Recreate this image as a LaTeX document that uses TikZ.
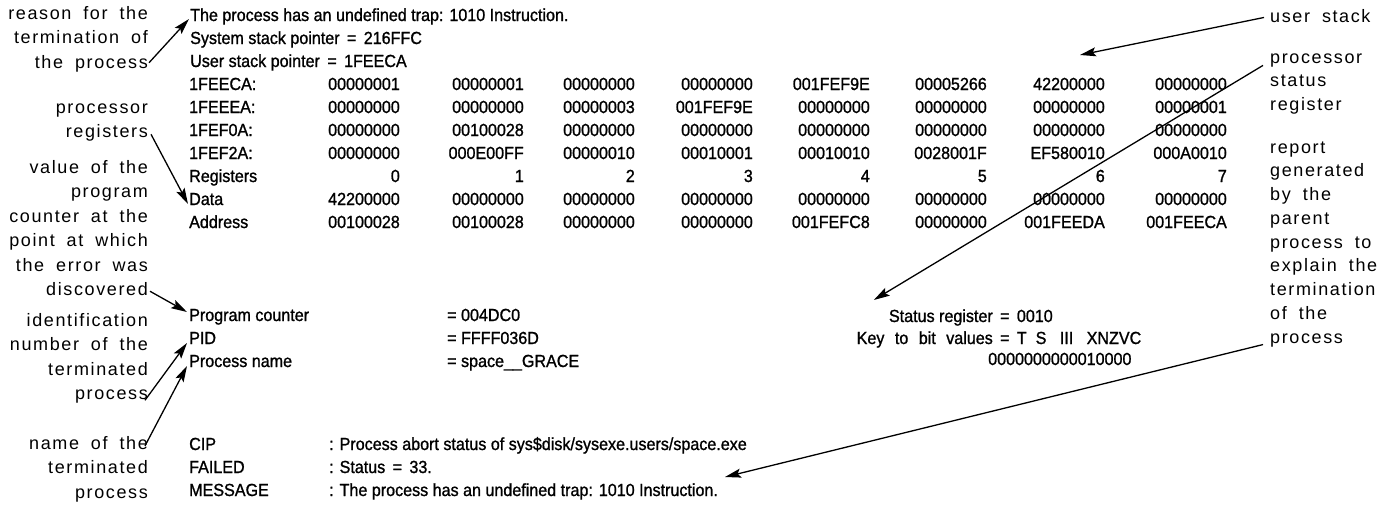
\documentclass[tikz,border=0pt]{standalone}
\usepackage{fontspec}
\setmainfont{Liberation Sans}
\newfontfamily\tabfont[FakeStretch=0.92,FakeBold=1.1]{Liberation Sans}
\newfontfamily\lblfont[LetterSpace=9,WordSpace=1.8]{Liberation Sans}
\usetikzlibrary{arrows.meta,calc}
\tikzset{
  tab/.style={inner sep=0pt, font=\tabfont\fontsize{17.5}{22}\selectfont},
  tw/.style={tab, anchor=base west},
  te/.style={tab, anchor=base east},
  lleft/.style={inner sep=0pt, align=right, anchor=north east,
     font=\lblfont\fontsize{18}{24.5}\selectfont},
  lright/.style={inner sep=0pt, align=left, anchor=north west,
     font=\lblfont\fontsize{18}{23.75}\selectfont},
  arr/.style={line width=1.3pt, -{Stealth[length=16pt,width=9pt,inset=3pt]}},
}
\begin{document}
\begin{tikzpicture}[x=1pt,y=-1pt]
\fill[white] (0,0) rectangle (1392,506);
\useasboundingbox (0,0) rectangle (1392,506);

% ---- left annotation labels
\node[lleft] (L1) at (148,1.85) {\strut reason for the\\termination of\\the process\strut};
\node[lleft] (L2) at (148,95.85) {\strut processor\\registers\strut};
\node[lleft] (L3) at (148,155.85) {\strut value of the\\program\\counter at the\\point at which\\the error was\\discovered\strut};
\node[lleft] (L4) at (148,308.85) {\strut identification\\number of the\\terminated\\process\strut};
\node[lleft] (L5) at (148,431.85) {\strut name of the\\terminated\\process\strut};

% ---- right annotation labels
\node[lright] (R1) at (1270,5.4) {\strut user stack\strut};
\node[lright] (R2) at (1270,46.4) {\strut processor\\status\\register\strut};
\node[lright] (R3) at (1270,136.4) {\strut report\\generated\\by the\\parent\\process to\\explain the\\termination\\of the\\process\strut};

% ---- dump header
\node[tw] (trap) at (190,21) {The process has an undefined trap: 1010 Instruction.};
\node[tw] (ssp) at (190,44) {System stack pointer \,=\, 216FFC};
\node[tw] (usp) at (190,67) {User stack pointer \,=\, 1FEECA};

% ---- register / stack table
\def\colx{{400,524,635,753,870,987,1105,1227}}
\foreach \b/\lab/\vals [count=\r from 3] in {
  90/1FEECA:/{00000001,00000001,00000000,00000000,001FEF9E,00005266,42200000,00000000},
  113/1FEEEA:/{00000000,00000000,00000003,001FEF9E,00000000,00000000,00000000,00000001},
  136/1FEF0A:/{00000000,00100028,00000000,00000000,00000000,00000000,00000000,00000000},
  159/1FEF2A:/{00000000,000E00FF,00000010,00010001,00010010,0028001F,EF580010,000A0010},
  182/Registers/{0,1,2,3,4,5,6,7},
  205/Data/{42200000,00000000,00000000,00000000,00000000,00000000,00000000,00000000},
  228/Address/{00100028,00100028,00000000,00000000,001FEFC8,00000000,001FEEDA,001FEECA}}{
  \node[tw] (l\r) at (189,\b) {\lab};
  \foreach \v [count=\c] in \vals {
    \pgfmathsetmacro\xx{\colx[\c-1]}
    \node[te] (c\r-\c) at (\xx,\b) {\v};
  }
}

% ---- process info
\node[tw] (pcl) at (189,321) {Program counter};
\node[tw] (pcv) at (447,321) {= 004DC0};
\node[tw] (pidl) at (189,344) {PID};
\node[tw] (pidv) at (447,344) {= FFFF036D};
\node[tw] (pnl) at (189,367) {Process name};
\node[tw] (pnv) at (447,367) {= space\_\_GRACE};

\node[te] (srl) at (993,322) {Status register};
\node[tw] (srv) at (997,322) {\,=\, 0010};
\node[te] (keyl) at (993,344) {Key\hspace{6pt} to\hspace{6pt} bit\hspace{6pt} values};
\node[tw] (keyv) at (997,344) {\,=\, T\ \ S\ \ \ III\ \ \ XNZVC};
\node[tw] (bits) at (988,365) {0000000000010000};

% ---- parent report
\node[tw] (cipl) at (189,450) {CIP};
\node[tw] (cipv) at (329,450) {: Process abort status of sys\$disk/sysexe.users/space.exe};
\node[tw] (fail) at (189,473) {FAILED};
\node[tw] (failv) at (329,473) {: Status \,=\, 33.};
\node[tw] (msgl) at (189,496) {MESSAGE};
\node[tw] (msgv) at (329,496) {: The process has an undefined trap: 1010 Instruction.};

% ---- free ends
\coordinate (ustk) at (1080,55);
\coordinate (rpt) at (725,477);

% ---- connectors
\draw[arr] ([shift={(1,-13)}]L1.south east) -- ([shift={(-1,-2)}]trap.base west);
\draw[arr] ([shift={(3,-11)}]L2.south east) -- ([shift={(-1,-1)}]l8.base west);
\draw[arr] ([shift={(2,-12)}]L3.south east) -- ([shift={(-2,-9)}]pcl.base west);
\draw[arr] ([shift={(-3,-7)}]L4.south east) -- ([shift={(-2,-1)}]pidl.base west);
\draw[arr] ([shift={(-3,14)}]L5.north east) -- ([shift={(-2,-1)}]pnl.base west);
\draw[arr] ([shift={(-6,0)}]R1.west) -- (ustk);
\draw[arr] ([shift={(-7,19)}]R2.north west) -- ([shift={(-15,-22)}]srl.base west);
\draw[arr] ([shift={(-7,-6)}]R3.south west) -- (rpt);
\end{tikzpicture}
\end{document}
